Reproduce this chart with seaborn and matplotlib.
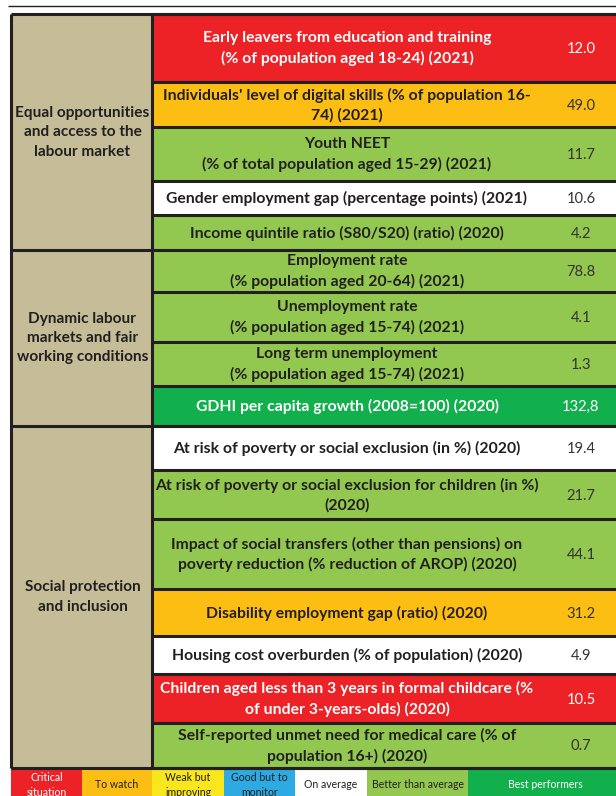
import matplotlib
matplotlib.use("Agg")
import matplotlib.pyplot as plt
import seaborn as sns
import numpy as np

# --- Daten ---
groups = [
    "Equal opportunities\nand access to the\nlabour market",
    "Dynamic labour\nmarkets and fair\nworking conditions",
    "Social protection\nand inclusion",
]
group_sizes = [5, 4, 7]

indicators = [
    "Early leavers from education and training\n(% of population aged 18-24) (2021)",
    "Individuals' level of digital skills (% of population 16-\n74) (2021)",
    "Youth NEET\n(% of total population aged 15-29) (2021)",
    "Gender employment gap (percentage points) (2021)",
    "Income quintile ratio (S80/S20) (ratio) (2020)",
    "Employment rate\n(% population aged 20-64) (2021)",
    "Unemployment rate\n(% population aged 15-74) (2021)",
    "Long term unemployment\n(% population aged 15-74) (2021)",
    "GDHI per capita growth (2008=100) (2020)",
    "At risk of poverty or social exclusion (in %) (2020)",
    "At risk of poverty or social exclusion for children (in %)\n(2020)",
    "Impact of social transfers (other than pensions) on\npoverty reduction (% reduction of AROP) (2020)",
    "Disability employment gap (ratio) (2020)",
    "Housing cost overburden (% of population) (2020)",
    "Children aged less than 3 years in formal childcare (%\nof under 3-years-olds) (2020)",
    "Self-reported unmet need for medical care (% of\npopulation 16+) (2020)",
]
value_labels = ["12.0", "49.0", "11.7", "10.6", "4.2", "78.8", "4.1", "1.3",
                "132,8", "19.4", "21.7", "44.1", "31.2", "4.9", "10.5", "0.7"]
status = ["critical", "to_watch", "better", "average", "better",
          "better", "better", "better", "best",
          "average", "better", "better", "to_watch", "average", "critical", "better"]

legend_keys = ["critical", "to_watch", "weak", "good", "average", "better", "best"]
legend_labels = ["Critical\nsituation", "To watch", "Weak but\nimproving",
                 "Good but to\nmonitor", "On average", "Better than average",
                 "Best performers"]

# --- Layout / Stil ---
palette = {
    "critical": "#ED2227",
    "to_watch": "#FDBE14",
    "weak": "#F8E71C",
    "good": "#2CAAE1",
    "average": "#FFFFFF",
    "better": "#92C850",
    "best": "#12AF4D",
}
light_text = {"critical", "best"}
dark = "#231F20"
tan = "#C5BD97"

row_heights = [68, 45, 54, 34, 35, 42, 50, 44, 40, 44, 49, 70, 47, 38, 49, 45]
legend_widths = [71, 70, 72, 71, 72, 101, 155]
table_top = 14
left_x, split_x, value_x, text_x = 11, 152, 581, 347

sns.set_theme(style="white")
plt.rcParams["font.family"] = ["Lato", "DejaVu Sans"]

fig = plt.figure(figsize=(6.16, 7.96), dpi=100)
ax = fig.add_axes([0, 0, 1, 1])
ax.set_xlim(0, 616)
ax.set_ylim(796, 0)
ax.axis("off")

edges = table_top + np.concatenate([[0], np.cumsum(row_heights)])
centers = (edges[:-1] + edges[1:]) / 2
table_bottom = edges[-1]

# Indikator-Zeilen
ax.barh(centers, 480, height=row_heights, left=split_x,
        color=[palette[s] for s in status], linewidth=0)

# Gruppen-Spalte
gidx = np.concatenate([[0], np.cumsum(group_sizes)])
g_top, g_bot = edges[gidx[:-1]], edges[gidx[1:]]
ax.barh((g_top + g_bot) / 2, split_x - left_x, height=g_bot - g_top,
        left=left_x, color=tan, linewidth=0)

for gy, label in zip((g_top + g_bot) / 2, groups):
    ax.text((left_x + split_x) / 2 + 1, gy, label, ha="center", va="center",
            fontsize=11.1, fontweight="bold", color=dark, linespacing=1.5)

for y, label, val, s in zip(centers, indicators, value_labels, status):
    c = "white" if s in light_text else dark
    ax.text(text_x, y + 0.5, label, ha="center", va="center", fontsize=11.3,
            fontweight="bold", color=c, linespacing=1.45)
    ax.text(value_x, y + 1, val, ha="center", va="center", fontsize=10.6,
            color="white" if s in light_text else "#333333")

# Rahmenlinien
ax.hlines(edges, split_x, 620, color=dark, lw=2.2)
ax.hlines(edges[gidx], left_x, 620, color=dark, lw=2.2)
ax.vlines([left_x, split_x], table_top, table_bottom, color=dark, lw=2.2)
ax.hlines(6, 8, 616, color=dark, lw=1.0)

# Legende
lefts = left_x + np.concatenate([[0], np.cumsum(legend_widths)[:-1]])
leg_y = 785
ax.barh(leg_y, legend_widths, height=34, left=lefts,
        color=[palette[k] for k in legend_keys], linewidth=0)
for lx, w, k, label in zip(lefts, legend_widths, legend_keys, legend_labels):
    ax.text(lx + w / 2, leg_y, label, ha="center", va="center", fontsize=7.6,
            color="white" if k in light_text else dark, linespacing=1.45)

fig.savefig("out.png", dpi=100)
